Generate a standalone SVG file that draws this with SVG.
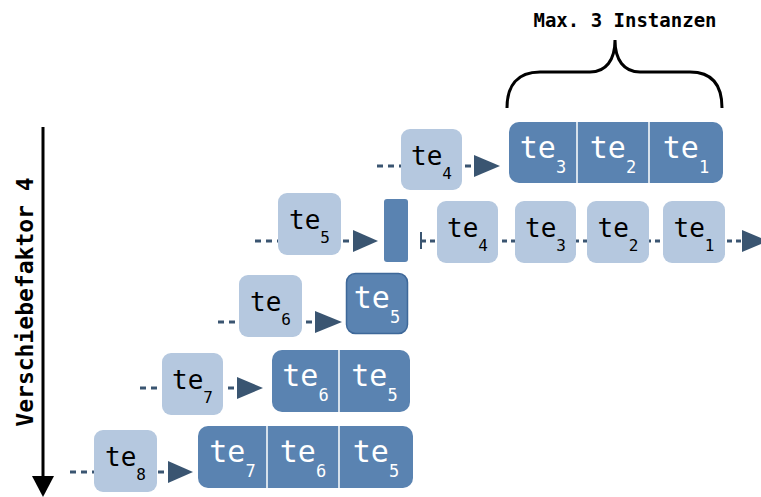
<svg xmlns="http://www.w3.org/2000/svg" width="761" height="497" viewBox="0 0 761 497">
  <style>
    .flow { stroke: #3a5571; stroke-width: 3; stroke-dasharray: 6 5; fill: none; }
    .head { fill: #3a5571; }
    .light { fill: #b5c8df; }
    .dark { fill: #5a83b1; }
    .div { stroke: #ffffff; stroke-width: 1.5; }
    .lt { font-family: "DejaVu Sans Mono", monospace; font-size: 26px; fill: #000000; text-anchor: middle; }
    .lt tspan { font-size: 16px; }
    .dt { font-family: "DejaVu Sans Mono", monospace; font-size: 30px; fill: #ffffff; text-anchor: middle; }
    .dt tspan { font-size: 17px; }
    .label { font-family: "DejaVu Sans Mono", monospace; font-weight: bold; fill: #000000; }
  </style>

  <!-- shift axis on the left -->
  <g id="axis">
    <line x1="43" y1="127" x2="43" y2="478" stroke="#000" stroke-width="3"/>
    <polygon points="32,476 54,476 43,497" fill="#000"/>
    <text class="label" font-size="23" text-anchor="middle" transform="translate(33,302) rotate(-90)">Verschiebefaktor 4</text>
  </g>

  <!-- brace with caption -->
  <g id="brace">
    <path d="M507,108 C507,86 517,72 540,72 L590,72 C606,72 615,60 615,40 C615,60 624,72 640,72 L690,72 C713,72 722,86 722,108" fill="none" stroke="#000" stroke-width="3"/>
    <text class="label" font-size="19" x="625" y="27" text-anchor="middle">Max. 3 Instanzen</text>
  </g>

  <!-- connectors -->
  <g id="connectors">
    <line class="flow" x1="377" y1="166" x2="474" y2="166"/>
    <polygon class="head" points="474,155 500,166 474,177"/>

    <line class="flow" x1="255" y1="241" x2="353" y2="241"/>
    <polygon class="head" points="353,230 378,241 353,252"/>
    <line x1="421" y1="232" x2="421" y2="249" stroke="#3a5571" stroke-width="2"/>
    <line class="flow" x1="421" y1="241" x2="742" y2="241" style="stroke-dasharray:5 4"/>
    <polygon class="head" points="742,230 768,241 742,252"/>

    <line class="flow" x1="218" y1="322" x2="315" y2="322"/>
    <polygon class="head" points="315,311 342,322 315,333"/>

    <line class="flow" x1="140" y1="388" x2="237" y2="388"/>
    <polygon class="head" points="237,377 263,388 237,399"/>

    <line class="flow" x1="70" y1="472" x2="168" y2="472"/>
    <polygon class="head" points="168,461 193,472 168,483"/>
  </g>

  <!-- row 1 -->
  <g id="r1-te4">
    <rect class="light" x="401" y="129" width="61" height="61" rx="9"/>
    <text class="lt" x="431.5" y="165">te<tspan dy="14">4</tspan></text>
  </g>
  <g id="r1-buffer">
    <rect class="dark" x="509" y="122" width="214" height="61" rx="10"/>
    <line class="div" x1="577" y1="122" x2="577" y2="183"/>
    <line class="div" x1="649" y1="122" x2="649" y2="183"/>
    <text class="dt" x="543" y="158">te<tspan dy="15">3</tspan></text>
    <text class="dt" x="613" y="158">te<tspan dy="15">2</tspan></text>
    <text class="dt" x="686" y="158">te<tspan dy="15">1</tspan></text>
  </g>

  <!-- row 2 -->
  <g id="r2-te5">
    <rect class="light" x="278" y="193" width="63" height="62" rx="9"/>
    <text class="lt" x="309.5" y="229">te<tspan dy="14">5</tspan></text>
  </g>
  <g id="r2-bar">
    <rect class="dark" x="384" y="199" width="24" height="63" rx="3"/>
  </g>
  <g id="r2-te4">
    <rect class="light" x="437" y="201" width="61" height="62" rx="9"/>
    <text class="lt" x="467.5" y="237">te<tspan dy="14">4</tspan></text>
  </g>
  <g id="r2-te3">
    <rect class="light" x="515" y="201" width="61" height="62" rx="9"/>
    <text class="lt" x="545.5" y="237">te<tspan dy="14">3</tspan></text>
  </g>
  <g id="r2-te2">
    <rect class="light" x="587" y="201" width="62" height="62" rx="9"/>
    <text class="lt" x="618" y="237">te<tspan dy="14">2</tspan></text>
  </g>
  <g id="r2-te1">
    <rect class="light" x="663" y="201" width="62" height="62" rx="9"/>
    <text class="lt" x="694" y="237">te<tspan dy="14">1</tspan></text>
  </g>

  <!-- row 3 -->
  <g id="r3-te6">
    <rect class="light" x="239" y="275" width="63" height="62" rx="9"/>
    <text class="lt" x="270.5" y="311">te<tspan dy="14">6</tspan></text>
  </g>
  <g id="r3-buffer">
    <rect class="dark" x="346.5" y="273.5" width="61" height="60" rx="9" stroke="#3e6899" stroke-width="1.5"/>
    <text class="dt" x="377" y="308">te<tspan dy="15">5</tspan></text>
  </g>

  <!-- row 4 -->
  <g id="r4-te7">
    <rect class="light" x="162" y="353" width="61" height="62" rx="9"/>
    <text class="lt" x="192.5" y="389">te<tspan dy="14">7</tspan></text>
  </g>
  <g id="r4-buffer">
    <rect class="dark" x="272" y="350" width="138" height="62" rx="10"/>
    <line class="div" x1="339" y1="350" x2="339" y2="412"/>
    <text class="dt" x="305.5" y="386">te<tspan dy="15">6</tspan></text>
    <text class="dt" x="374.5" y="386">te<tspan dy="15">5</tspan></text>
  </g>

  <!-- row 5 -->
  <g id="r5-te8">
    <rect class="light" x="94" y="430" width="63" height="62" rx="9"/>
    <text class="lt" x="125.5" y="466">te<tspan dy="14">8</tspan></text>
  </g>
  <g id="r5-buffer">
    <rect class="dark" x="198" y="426" width="215" height="62" rx="10"/>
    <line class="div" x1="267" y1="426" x2="267" y2="488"/>
    <line class="div" x1="339" y1="426" x2="339" y2="488"/>
    <text class="dt" x="232.5" y="462">te<tspan dy="15">7</tspan></text>
    <text class="dt" x="303" y="462">te<tspan dy="15">6</tspan></text>
    <text class="dt" x="376" y="462">te<tspan dy="15">5</tspan></text>
  </g>
</svg>
